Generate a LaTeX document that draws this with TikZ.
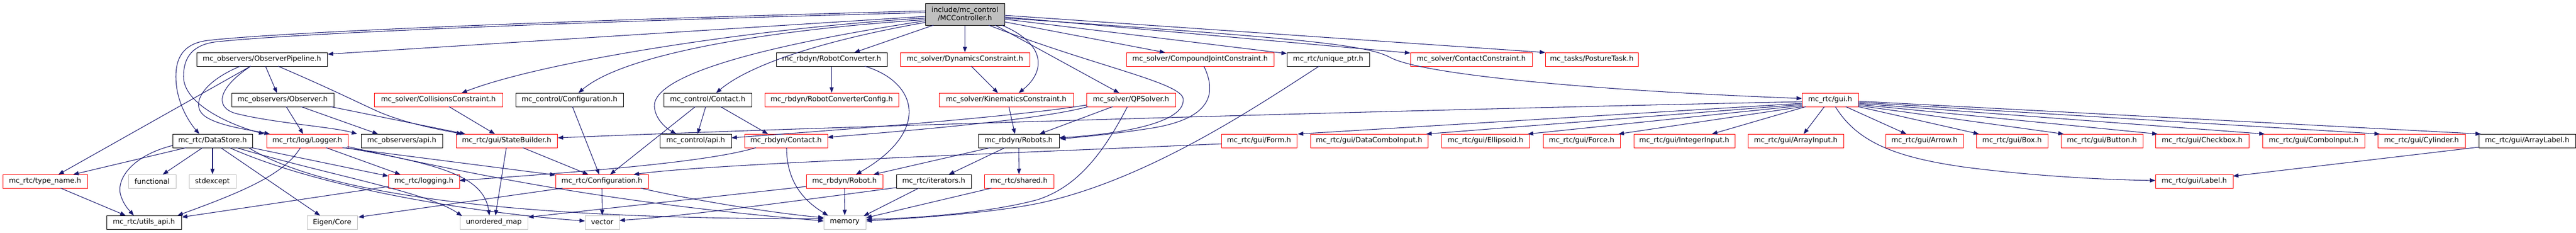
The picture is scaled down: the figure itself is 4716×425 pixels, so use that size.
\documentclass[tikz,border=0pt]{standalone}
\usepackage{fontspec}
\setmainfont{DejaVu Sans}
\usetikzlibrary{arrows.meta,calc}
\definecolor{edgecol}{HTML}{191970}
\definecolor{grayline}{HTML}{BFBFBF}
\definecolor{rootfill}{HTML}{BFBFBF}
\definecolor{boxred}{HTML}{FF0000}
\newcommand\bx[6]{\pgfmathsetmacro\bxW{(#4-#3)*0.75}\pgfmathsetmacro\bxX{(#3+#4)/2}\node[#2,minimum width=\bxW pt] (#1) at (\bxX,#5) {#6};}
\begin{document}
\begin{tikzpicture}[x=0.75pt,y=-0.75pt,
  every node/.style={font=\fontsize{9.7}{11.5}\selectfont, inner sep=0pt, minimum height=18.75pt, line width=0.75pt, fill=white},
  blk/.style={draw=black},
  rbox/.style={draw=boxred},
  gbox/.style={draw=grayline},
  conn/.style={draw=edgecol, line width=0.8pt, -{Triangle[length=7.5pt,width=5.6pt]}}
]
\useasboundingbox (0,0) rectangle (4716,425);
% root
\node[draw=black, fill=rootfill, minimum width=108.75pt, minimum height=30pt, align=center] (MC) at (1766.5,26) {include/mc\_control\\/MCController.h};
% row 1
\bx{OP}{blk}{360}{599}{108.5}{mc\_observers/ObserverPipeline.h}
\bx{RC}{blk}{1421}{1624}{108.5}{mc\_rbdyn/RobotConverter.h}
\bx{DC}{rbox}{1648}{1885}{108.5}{mc\_solver/DynamicsConstraint.h}
\bx{CJ}{rbox}{2062}{2332}{108.5}{mc\_solver/CompoundJointConstraint.h}
\bx{UP}{blk}{2356}{2507}{108.5}{mc\_rtc/unique\_ptr.h}
\bx{CoC}{rbox}{2582}{2805}{108.5}{mc\_solver/ContactConstraint.h}
\bx{PT}{rbox}{2829}{2999}{108.5}{mc\_tasks/PostureTask.h}
% row 2
\bx{OB}{blk}{424}{611}{182.5}{mc\_observers/Observer.h}
\bx{CC}{rbox}{685}{920}{182.5}{mc\_solver/CollisionsConstraint.h}
\bx{CCfg}{blk}{944}{1141}{182.5}{mc\_control/Configuration.h}
\bx{CCt}{blk}{1215}{1376}{182.5}{mc\_control/Contact.h}
\bx{RCC}{rbox}{1400}{1645}{182.5}{mc\_rbdyn/RobotConverterConfig.h}
\bx{KC}{rbox}{1719}{1965}{182.5}{mc\_solver/KinematicsConstraint.h}
\bx{QP}{rbox}{1989}{2152}{182.5}{mc\_solver/QPSolver.h}
\bx{GUI}{rbox}{3299}{3402}{182.5}{mc\_rtc/gui.h}
% row 3
\bx{DS}{blk}{316}{462}{257.5}{mc\_rtc/DataStore.h}
\bx{LG}{rbox}{488}{637}{257.5}{mc\_rtc/log/Logger.h}
\bx{OA}{blk}{661}{810}{257.5}{mc\_observers/api.h}
\bx{SB}{rbox}{835}{1020}{257.5}{mc\_rtc/gui/StateBuilder.h}
\bx{CA}{blk}{1208}{1339}{257.5}{mc\_control/api.h}
\bx{RCt}{rbox}{1363}{1515}{257.5}{mc\_rbdyn/Contact.h}
\bx{RB}{blk}{1791}{1939}{257.5}{mc\_rbdyn/Robots.h}
\bx{FM}{rbox}{2236}{2374}{257.5}{mc\_rtc/gui/Form.h}
\bx{DCI}{rbox}{2399}{2614}{257.5}{mc\_rtc/gui/DataComboInput.h}
\bx{EL}{rbox}{2639}{2800}{257.5}{mc\_rtc/gui/Ellipsoid.h}
\bx{FO}{rbox}{2825}{2966}{257.5}{mc\_rtc/gui/Force.h}
\bx{II}{rbox}{2991}{3176}{257.5}{mc\_rtc/gui/IntegerInput.h}
\bx{AI}{rbox}{3200}{3375}{257.5}{mc\_rtc/gui/ArrayInput.h}
\bx{AR}{rbox}{3452}{3594}{257.5}{mc\_rtc/gui/Arrow.h}
\bx{BX}{rbox}{3618}{3749}{257.5}{mc\_rtc/gui/Box.h}
\bx{BT}{rbox}{3773}{3923}{257.5}{mc\_rtc/gui/Button.h}
\bx{CB}{rbox}{3946}{4117}{257.5}{mc\_rtc/gui/Checkbox.h}
\bx{CI}{rbox}{4142}{4329}{257.5}{mc\_rtc/gui/ComboInput.h}
\bx{CY}{rbox}{4353}{4513}{257.5}{mc\_rtc/gui/Cylinder.h}
\bx{AL}{blk}{4538}{4715}{257.5}{mc\_rtc/gui/ArrayLabel.h}
% row 4
\bx{TN}{rbox}{5}{160}{331.5}{mc\_rtc/type\_name.h}
\bx{FN}{gbox}{235}{322}{331.5}{functional}
\bx{SE}{gbox}{346}{432}{331.5}{stdexcept}
\bx{LOGG}{rbox}{711}{841}{331.5}{mc\_rtc/logging.h}
\bx{CFG}{rbox}{1017}{1187}{331.5}{mc\_rtc/Configuration.h}
\bx{RO}{rbox}{1476}{1616}{331.5}{mc\_rbdyn/Robot.h}
\bx{IT}{blk}{1641}{1778}{331.5}{mc\_rtc/iterators.h}
\bx{SH}{rbox}{1802}{1929}{331.5}{mc\_rtc/shared.h}
\bx{LB}{rbox}{3946}{4088}{331.5}{mc\_rtc/gui/Label.h}
% row 5
\bx{UA}{blk}{195}{332}{406.5}{mc\_rtc/utils\_api.h}
\bx{EC}{gbox}{562}{654}{406.5}{Eigen/Core}
\bx{UM}{gbox}{842}{966}{406.5}{unordered\_map}
\bx{VE}{gbox}{1071}{1134}{406.5}{vector}
\bx{ME}{gbox}{1508}{1585}{406.5}{memory}

% ---- edges from MCController
\draw[conn] ($(MC)+(-72.5,4)$) -- ($(OP)+(120.5,-9.5)$);
\draw[conn] ($(MC)+(-72.5,-6)$) .. controls (1000,38) and (500,60) .. (380,74) .. controls (332,80) and (322,110) .. (322,140) .. controls (322,185) and (345,222) .. ($(DS)+(-24,-12.5)$);
\draw[conn] ($(MC)+(-72.5,-3)$) .. controls (1000,41) and (510,63) .. (392,77) .. controls (346,84) and (336,112) .. (336,140) .. controls (336,190) and (420,228) .. ($(LG)+(-78.5,-12.5)$);
\draw[conn] ($(MC)+(-72.5,7)$) .. controls (1400,50) and (1000,110) .. ($(CC)+(42.5,-12.5)$);
\draw[conn] ($(MC)+(-72.5,10)$) .. controls (1400,55) and (1140,100) .. ($(CCfg)+(16.5,-12.5)$);
\draw[conn] ($(MC)+(-72.5,12)$) .. controls (1320,95) and (1195,150) .. (1198,195) .. controls (1200,220) and (1222,236) .. ($(CA)+(-35.5,-12.5)$);
\draw[conn] ($(MC)+(-72.5,15)$) .. controls (1500,75) and (1370,120) .. ($(CCt)+(15.5,-12.5)$);
\draw[conn] ($(MC)+(-57.5,20)$) -- ($(RC)+(41.5,-12.5)$);
\draw[conn] (MC.south) -- (DC.north);
\draw[conn] ($(MC)+(67.5,20)$) .. controls (1915,80) and (1915,130) .. ($(KC)+(23,-12.5)$);
\draw[conn] ($(MC)+(55.5,20)$) -- ($(QP)+(-21.5,-12.5)$);
\draw[conn] ($(MC)+(43.5,20)$) .. controls (2000,120) and (2160,150) .. (2166,180) .. controls (2172,225) and (2050,245) .. ($(RB)+(74,-5.5)$);
\draw[conn] ($(MC)+(72.5,14)$) -- ($(CJ)+(-64,-12.5)$);
\draw[conn] ($(MC)+(72.5,9)$) -- ($(UP)+(-75.5,-10.5)$);
\draw[conn] ($(MC)+(72.5,5)$) -- ($(CoC)+(-111.5,-11.5)$);
\draw[conn] ($(MC)+(72.5,2)$) -- ($(PT)+(-85,-12.5)$);
\draw[conn] ($(MC)+(72.5,7)$) .. controls (2350,68) and (2500,80) .. (2545,105) .. controls (2600,135) and (2900,165) .. ($(GUI)+(-51.5,-2.5)$);

% ---- ObserverPipeline / Observer
\draw[conn] ($(OP)+(-20.5,12.5)$) -- ($(TN)+(24.5,-12.5)$);
\draw[conn] ($(OP)+(-39.5,12.5)$) .. controls (370,150) and (350,190) .. (372,210) .. controls (395,230) and (460,238) .. ($(LG)+(-68.5,-12.5)$);
\draw[conn] ($(OP)+(6.5,12.5)$) -- ($(OB)+(-10.5,-12.5)$);
\draw[conn] ($(OP)+(-20.5,12.5)$) .. controls (400,160) and (392,195) .. (430,207) .. controls (500,225) and (610,232) .. ($(OA)+(-81.5,-12.5)$);
\draw[conn] ($(OP)+(29.5,12.5)$) .. controls (600,160) and (640,180) .. (690,203) .. controls (740,225) and (800,236) .. ($(SB)+(-81.5,-12.5)$);
\draw[conn] ($(OB)+(6.5,12.5)$) -- ($(LG)+(-7.5,-12.5)$);
\draw[conn] ($(OB)+(33.5,12.5)$) -- ($(OA)+(-43.5,-12.5)$);
\draw[conn] ($(OB)+(87.5,12.5)$) -- ($(SB)+(-75.5,-12.5)$);

% ---- row 2 misc
\draw[conn] ($(CC)+(19.5,12.5)$) -- ($(SB)+(-21.5,-12.5)$);
\draw[conn] ($(CCfg)+(5.5,12.5)$) -- ($(CFG)+(-5,-12.5)$);
\draw[conn] ($(SB)+(29.5,12.5)$) -- ($(CFG)+(-25,-12.5)$);
\draw[conn] ($(SB)+(-0.5,12.5)$) -- ($(UM)+(3,-12.5)$);
\draw[conn] ($(CCt)+(-22.5,12.5)$) -- ($(CFG)+(15,-12.5)$);
\draw[conn] ($(CCt)+(-3.5,12.5)$) -- ($(CA)+(3.5,-12.5)$);
\draw[conn] ($(CCt)+(23.5,12.5)$) -- ($(RCt)+(-33,-12.5)$);
\draw[conn] (RC.south) -- (RCC.north);
\draw[conn] ($(RC)+(60.5,12.5)$) .. controls (1680,150) and (1705,240) .. ($(RO)+(21,-12.5)$);
\draw[conn] ($(DC)+(11.5,12.5)$) -- ($(KC)+(-15,-12.5)$);
\draw[conn] ($(KC)+(5,12.5)$) -- ($(RB)+(-7,-12.5)$);
\draw[conn] ($(QP)+(-33.5,12.5)$) -- ($(RB)+(38,-12.5)$);
\draw[conn] ($(QP)+(-81.5,9.5)$) .. controls (1850,215) and (1500,240) .. ($(CA)+(65.5,-5.5)$);
\draw[conn] ($(QP)+(-78.5,12.5)$) .. controls (1900,220) and (1650,240) .. ($(RCt)+(76,-6.5)$);
\draw[conn] ($(QP)+(-6.5,12.5)$) .. controls (2010,300) and (1960,345) .. (1900,365) .. controls (1800,392) and (1650,400) .. ($(ME)+(39.5,-5.5)$);
\draw[conn] ($(CJ)+(7,12.5)$) .. controls (2225,165) and (2225,215) .. (2110,234) .. controls (2040,245) and (1985,250) .. ($(RB)+(76,-3.5)$);
\draw[conn] ($(UP)+(-16.5,12.5)$) .. controls (2300,195) and (2100,330) .. (1900,372) .. controls (1800,392) and (1650,400) .. ($(ME)+(39.5,-2.5)$);

% ---- gui.h
\draw[conn] ($(GUI)+(-51.5,3.5)$) .. controls (2600,200) and (1500,232) .. ($(SB)+(93.5,-5.5)$);
\draw[conn] ($(GUI)+(-51.5,6.5)$) -- ($(FM)+(71,-12.5)$);
\draw[conn] ($(GUI)+(-51.5,8.5)$) -- ($(DCI)+(104.5,-12.5)$);
\draw[conn] ($(GUI)+(-51.5,10.5)$) -- ($(EL)+(77.5,-12.5)$);
\draw[conn] ($(GUI)+(-50.5,12.5)$) -- ($(FO)+(67.5,-12.5)$);
\draw[conn] ($(GUI)+(-44.5,12.5)$) -- ($(II)+(50.5,-12.5)$);
\draw[conn] ($(GUI)+(-10.5,12.5)$) -- ($(AI)+(14.5,-12.5)$);
\draw[conn] ($(GUI)+(28.5,12.5)$) -- ($(AR)+(-33,-12.5)$);
\draw[conn] ($(GUI)+(51.5,12.5)$) -- ($(BX)+(-60.5,-12.5)$);
\draw[conn] ($(GUI)+(51.5,10.5)$) -- ($(BT)+(-70,-12.5)$);
\draw[conn] ($(GUI)+(51.5,8.5)$) -- ($(CB)+(-81.5,-12.5)$);
\draw[conn] ($(GUI)+(51.5,6.5)$) -- ($(CI)+(-89.5,-12.5)$);
\draw[conn] ($(GUI)+(51.5,4.5)$) -- ($(CY)+(-76,-12.5)$);
\draw[conn] ($(GUI)+(51.5,2.5)$) -- ($(AL)+(-84.5,-12.5)$);
\draw[conn] ($(GUI)+(9.5,12.5)$) .. controls (3400,260) and (3470,288) .. (3600,306) .. controls (3750,325) and (3880,329) .. ($(LB)+(-71,-1.5)$);
\draw[conn] ($(AL)+(-88.5,11.5)$) -- ($(LB)+(71,-9.5)$);

% ---- row 3 misc
\draw[conn] ($(FM)+(-69,5.5)$) .. controls (1800,282) and (1300,300) .. ($(CFG)+(58,-12.5)$);
\draw[conn] ($(RCt)+(-55,12.5)$) .. controls (1300,295) and (1100,312) .. ($(LOGG)+(65,-1.5)$);
\draw[conn] ($(RCt)+(1,12.5)$) .. controls (1440,340) and (1480,372) .. ($(ME)+(-30.5,-12.5)$);
\draw[conn] ($(RB)+(-52,12.5)$) -- ($(RO)+(53,-12.5)$);
\draw[conn] ($(RB)+(-25,12.5)$) -- ($(IT)+(27.5,-12.5)$);
\draw[conn] (RB.south) -- (SH.north);
\draw[conn] (RO.south) -- (ME.north);
\draw[conn] ($(RO)+(-70,9.5)$) -- ($(UM)+(63,-9.5)$);
\draw[conn] ($(IT)+(-27.5,12.5)$) -- ($(ME)+(34.5,-11.5)$);
\draw[conn] ($(IT)+(-68.5,11.5)$) .. controls (1400,375) and (1250,395) .. ($(VE)+(31.5,-3.5)$);
\draw[conn] ($(SH)+(-50.5,12.5)$) -- ($(ME)+(39.5,-8.5)$);

% ---- Logger
\draw[conn] ($(LG)+(-12.5,12.5)$) .. controls (520,320) and (440,352) .. ($(UA)+(61.5,-12.5)$);
\draw[conn] ($(LG)+(34.5,12.5)$) -- ($(LOGG)+(-43,-12.5)$);
\draw[conn] ($(LG)+(64.5,12.5)$) -- ($(CFG)+(-85,-11.5)$);
\draw[conn] ($(LG)+(70.5,12.5)$) .. controls (800,300) and (885,320) .. ($(UM)+(-8,-12.5)$);
\draw[conn] ($(LG)+(73.5,10.5)$) .. controls (850,315) and (1100,370) .. ($(ME)+(-38.5,-2.5)$);

% ---- DataStore
\draw[conn] ($(DS)+(-73,8.5)$) .. controls (240,285) and (210,330) .. (222,360) .. controls (228,377) and (238,386) .. ($(UA)+(-18.5,-12.5)$);
\draw[conn] ($(DS)+(-48,12.5)$) -- ($(TN)+(51.5,-12.5)$);
\draw[conn] ($(DS)+(-18,12.5)$) -- ($(FN)+(19.5,-12.5)$);
\draw[conn] (DS.south) -- (SE.north);
\draw[conn] ($(DS)+(15,12.5)$) -- ($(EC)+(-22,-12.5)$);
\draw[conn] ($(DS)+(71,12.5)$) -- ($(LOGG)+(-65,-9.5)$);
\draw[conn] ($(DS)+(44,12.5)$) .. controls (600,320) and (780,350) .. ($(UM)+(-58,-11.5)$);
\draw[conn] ($(DS)+(31,12.5)$) .. controls (600,350) and (900,392) .. ($(VE)+(-31.5,-2.5)$);
\draw[conn] ($(DS)+(66,12.5)$) .. controls (650,390) and (1200,400) .. ($(ME)+(-38.5,-6.5)$);

% ---- row 4
\draw[conn] ($(TN)+(28.5,12.5)$) -- ($(UA)+(-33.5,-12.5)$);
\draw[conn] ($(LOGG)+(-65,9.5)$) -- ($(UA)+(69.5,-9.5)$);
\draw[conn] ($(CFG)+(-72,12.5)$) -- ($(EC)+(48,-9.5)$);
\draw[conn] (CFG.south) -- (VE.north);
\draw[conn] ($(CFG)+(71,12.5)$) .. controls (1250,362) and (1400,388) .. ($(ME)+(-38.5,-8.5)$);
\end{tikzpicture}
\end{document}
